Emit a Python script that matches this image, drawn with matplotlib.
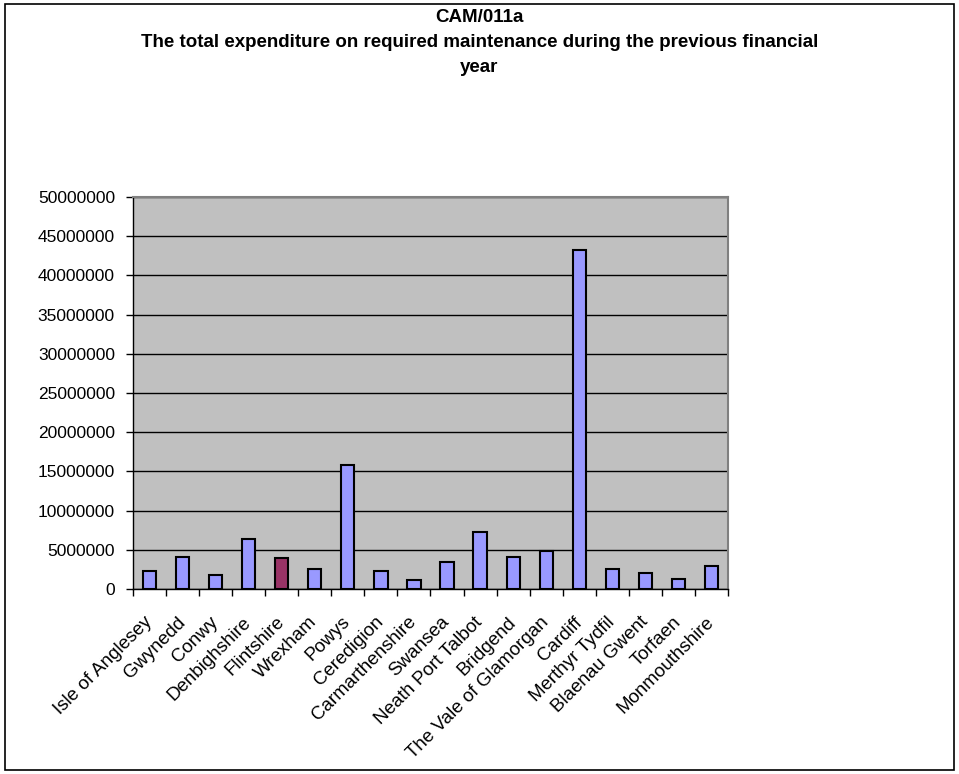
import numpy as np
import matplotlib.pyplot as plt
from matplotlib.patches import Rectangle

authorities = ["Isle of Anglesey", "Gwynedd", "Conwy", "Denbighshire", "Flintshire",
               "Wrexham", "Powys", "Ceredigion", "Carmarthenshire", "Swansea",
               "Neath Port Talbot", "Bridgend", "The Vale of Glamorgan", "Cardiff",
               "Merthyr Tydfil", "Blaenau Gwent", "Torfaen", "Monmouthshire"]
expenditure = [2300000, 4100000, 1800000, 6400000, 3900000,
               2500000, 15800000, 2300000, 1100000, 3400000,
               7300000, 4100000, 4800000, 43300000,
               2500000, 2000000, 1300000, 2900000]
highlight = "Flintshire"
yticks = list(range(0, 50000001, 5000000))

plt.rcParams['font.family'] = ['Liberation Sans', 'DejaVu Sans']

fig = plt.figure(figsize=(9.59, 7.74), dpi=100)
fig.patches.append(Rectangle((0.005, 0.005), 0.99, 0.99, transform=fig.transFigure,
                             fill=False, edgecolor="black", linewidth=1.2))

ax = fig.add_axes([0.1387, 0.239, 0.6204, 0.5065])
ax.set_facecolor("#C0C0C0")

x = np.arange(len(authorities))
colors = ["#993366" if a == highlight else "#9999FF" for a in authorities]
ax.bar(x, expenditure, width=0.4, color=colors, edgecolor="black", linewidth=1.5, zorder=3)

ax.set_xlim(-0.5, len(authorities) - 0.5)
ax.set_ylim(0, 50000000)
ax.set_yticks(yticks)
ax.set_yticklabels([str(v) for v in yticks], fontsize=12.5)
ax.yaxis.grid(True, color="black", linewidth=1, zorder=1)
ax.set_axisbelow(True)

# ticks sit on category boundaries, names sit under the bars
ax.set_xticks(np.arange(len(authorities) + 1) - 0.5)
ax.set_xticklabels([])
ax.set_xticks(x, minor=True)
ax.set_xticklabels(authorities, minor=True, rotation=45, ha="right", va="center",
                   rotation_mode="anchor", fontsize=13.5)
ax.tick_params(axis="x", which="minor", length=0, pad=22)
ax.tick_params(axis="x", which="major", length=5, width=1, color="black", direction="out")
ax.tick_params(axis="y", length=5, width=1, color="black", direction="out", pad=8)

for side in ["top", "right"]:
    ax.spines[side].set_color("#808080")
    ax.spines[side].set_linewidth(1.5)
for side in ["left", "bottom"]:
    ax.spines[side].set_color("black")
    ax.spines[side].set_linewidth(1)

title_lines = ["CAM/011a",
               "The total expenditure on required maintenance during the previous financial",
               "year"]
for y, line in zip([0.977, 0.945, 0.913], title_lines):
    fig.text(0.5, y, line, ha="center", va="center", fontsize=13.5, fontweight="bold")

fig.savefig("out.png", dpi=100)
